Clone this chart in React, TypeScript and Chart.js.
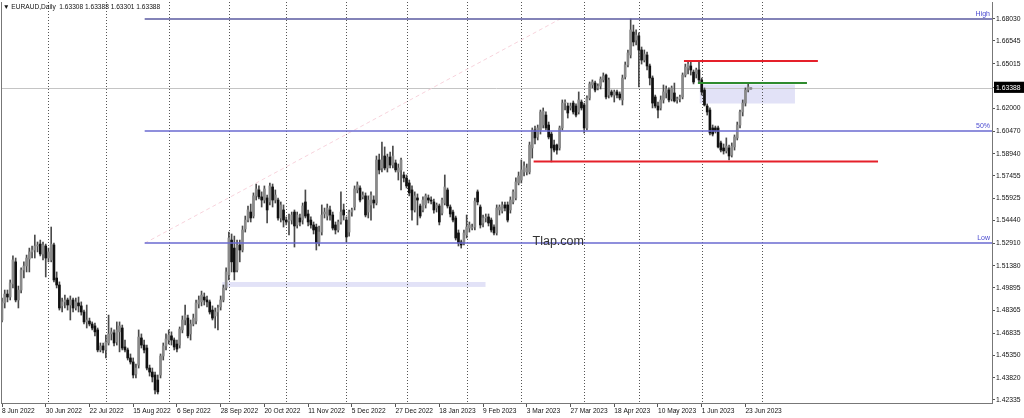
import React, { useEffect, useRef } from 'react';
import { Chart, registerables } from 'chart.js';

Chart.register(...registerables);

// ---- Daily EURAUD candles, bar 0 = 8 Jun 2022 (weekdays) ----
const opens = [
  1.4773, 1.4888, 1.4948, 1.4928, 1.5016, 1.5165, 1.4908, 1.4975, 1.511, 1.5137,
  1.5184, 1.5232, 1.5245, 1.5272, 1.5285, 1.5218, 1.5272, 1.5191, 1.5178, 1.5279,
  1.5056, 1.5009, 1.4868, 1.4895, 1.4908, 1.4874, 1.4908, 1.4854, 1.4888, 1.4868,
  1.4827, 1.476, 1.4766, 1.4746, 1.4733, 1.4706, 1.4571, 1.4598, 1.4571, 1.4618,
  1.4679, 1.4686, 1.4625, 1.4693, 1.4719, 1.4591, 1.4571, 1.4517, 1.449, 1.4409,
  1.4469, 1.4652, 1.4604, 1.4584, 1.4449, 1.4422, 1.4402, 1.4368, 1.4402, 1.453,
  1.4598, 1.4638, 1.4666, 1.4638, 1.4611, 1.4604, 1.4706, 1.4773, 1.4786, 1.4679,
  1.4746, 1.4766, 1.4881, 1.4895, 1.4928, 1.4908, 1.4895, 1.484, 1.48, 1.4827,
  1.4861, 1.4908, 1.4989, 1.5077, 1.5312, 1.5258, 1.511, 1.5279, 1.5245, 1.5387,
  1.5447, 1.5501, 1.5474, 1.561, 1.565, 1.5603, 1.5582, 1.5596, 1.5569, 1.567,
  1.5582, 1.5582, 1.5461, 1.5515, 1.5447, 1.5441, 1.5447, 1.5501, 1.5414, 1.5461,
  1.5447, 1.5569, 1.5488, 1.5447, 1.5414, 1.54, 1.5299, 1.5366, 1.5488, 1.5474,
  1.5515, 1.5481, 1.5414, 1.538, 1.5434, 1.5515, 1.5447, 1.5366, 1.5501, 1.5535,
  1.565, 1.5663, 1.5603, 1.561, 1.5501, 1.5549, 1.5582, 1.5562, 1.5852, 1.5798,
  1.5879, 1.5798, 1.5872, 1.5818, 1.5832, 1.5771, 1.5785, 1.5751, 1.5731, 1.5697,
  1.565, 1.5515, 1.5596, 1.5542, 1.5515, 1.5549, 1.5596, 1.5582, 1.5569, 1.5528,
  1.5542, 1.5494, 1.5562, 1.565, 1.5535, 1.5501, 1.5461, 1.536, 1.5299, 1.5299,
  1.5346, 1.5393, 1.5393, 1.54, 1.5637, 1.5535, 1.5427, 1.5461, 1.5468, 1.5447,
  1.54, 1.536, 1.5515, 1.5508, 1.5549, 1.5549, 1.5515, 1.5569, 1.5596, 1.5697,
  1.5717, 1.5771, 1.5771, 1.5771, 1.5933, 1.6054, 1.6007, 1.6054, 1.6088, 1.6155,
  1.6088, 1.6027, 1.5953, 1.5953, 1.5933, 1.6068, 1.6236, 1.6216, 1.6203, 1.6236,
  1.6216, 1.6176, 1.6243, 1.6223, 1.6068, 1.627, 1.6358, 1.6371, 1.6338, 1.6351,
  1.6392, 1.6425, 1.629, 1.6311, 1.629, 1.6311, 1.6297, 1.6257, 1.6412, 1.6493,
  1.656, 1.6715, 1.6661, 1.6688, 1.6594, 1.6526, 1.656, 1.6486, 1.6405, 1.6277,
  1.6216, 1.6203, 1.6257, 1.6304, 1.6324, 1.6264, 1.6304, 1.6257, 1.6264, 1.6277,
  1.6425, 1.6472, 1.6486, 1.6445, 1.6432, 1.6459, 1.6392, 1.6324, 1.6216, 1.6189,
  1.6068, 1.6068, 1.6068, 1.5967, 1.5933, 1.5913, 1.5933, 1.5885, 1.594, 1.6001,
  1.6088, 1.6176, 1.6236, 1.6324, 1.63308,
];

const highs = [
  1.4921, 1.4975, 1.4975, 1.5043, 1.5205, 1.5191, 1.5002, 1.5124, 1.5165, 1.5211,
  1.5258, 1.5272, 1.5346, 1.5299, 1.5312, 1.5299, 1.5285, 1.5258, 1.54, 1.5292,
  1.5097, 1.503, 1.4921, 1.4941, 1.4921, 1.4935, 1.4921, 1.4921, 1.4928, 1.4895,
  1.484, 1.4874, 1.4786, 1.476, 1.4753, 1.4719, 1.4618, 1.4618, 1.4672, 1.4806,
  1.4719, 1.4706, 1.476, 1.476, 1.4739, 1.4638, 1.4584, 1.4544, 1.4517, 1.4476,
  1.4706, 1.4679, 1.4638, 1.4604, 1.4469, 1.4449, 1.4422, 1.4402, 1.4544, 1.4618,
  1.4679, 1.4706, 1.4693, 1.4652, 1.4638, 1.4726, 1.48, 1.4874, 1.4806, 1.4773,
  1.4813, 1.4908, 1.4935, 1.4968, 1.4955, 1.4935, 1.4908, 1.4868, 1.4854, 1.4874,
  1.4935, 1.5009, 1.5124, 1.5366, 1.5353, 1.5339, 1.5312, 1.5312, 1.5407, 1.5474,
  1.5542, 1.5555, 1.563, 1.569, 1.5677, 1.5637, 1.5677, 1.5616, 1.5697, 1.569,
  1.565, 1.5596, 1.5569, 1.5549, 1.5468, 1.5488, 1.5501, 1.5515, 1.5501, 1.5488,
  1.5562, 1.565, 1.5515, 1.5468, 1.5434, 1.542, 1.5407, 1.5549, 1.5528, 1.5555,
  1.5542, 1.5501, 1.5434, 1.5447, 1.5637, 1.5555, 1.5468, 1.5515, 1.5528, 1.5677,
  1.5704, 1.5677, 1.5637, 1.563, 1.561, 1.5637, 1.561, 1.5879, 1.5892, 1.5973,
  1.594, 1.5892, 1.5906, 1.5946, 1.5852, 1.5825, 1.5865, 1.5771, 1.5751, 1.5717,
  1.5677, 1.5637, 1.5623, 1.5555, 1.5603, 1.5623, 1.5616, 1.5603, 1.5589, 1.5562,
  1.5555, 1.5596, 1.5751, 1.5663, 1.5549, 1.5515, 1.5474, 1.538, 1.5312, 1.538,
  1.5481, 1.5434, 1.542, 1.5596, 1.565, 1.5549, 1.5481, 1.5488, 1.5488, 1.5461,
  1.5414, 1.5549, 1.5549, 1.5569, 1.5569, 1.5569, 1.5603, 1.565, 1.5731, 1.5771,
  1.5852, 1.5839, 1.5825, 1.5973, 1.6068, 1.6081, 1.6088, 1.6189, 1.6203, 1.6176,
  1.6108, 1.6041, 1.5987, 1.596, 1.6081, 1.6257, 1.6257, 1.6236, 1.6236, 1.625,
  1.623, 1.6311, 1.6257, 1.6236, 1.6284, 1.6378, 1.6392, 1.6385, 1.6365, 1.6412,
  1.6439, 1.6432, 1.6405, 1.6324, 1.6324, 1.6324, 1.6311, 1.6425, 1.6513, 1.6594,
  1.6803, 1.6762, 1.6729, 1.6709, 1.6614, 1.6594, 1.658, 1.6499, 1.6419, 1.629,
  1.6243, 1.6284, 1.6358, 1.6351, 1.6338, 1.6351, 1.6371, 1.6277, 1.629, 1.6439,
  1.6499, 1.6513, 1.652, 1.6459, 1.6472, 1.6513, 1.6405, 1.6338, 1.623, 1.6203,
  1.6088, 1.6081, 1.6081, 1.598, 1.596, 1.6001, 1.5953, 1.5967, 1.6021, 1.6108,
  1.6189, 1.6257, 1.6338, 1.6371, 1.63388,
];

const lows = [
  1.476, 1.4854, 1.4895, 1.4908, 1.4989, 1.4895, 1.4854, 1.4955, 1.5056, 1.5097,
  1.5097, 1.5191, 1.5191, 1.5232, 1.5205, 1.5178, 1.5063, 1.5165, 1.5165, 1.503,
  1.4989, 1.484, 1.4827, 1.4854, 1.484, 1.4773, 1.4827, 1.484, 1.4827, 1.4806,
  1.4746, 1.4719, 1.4733, 1.4706, 1.4666, 1.4558, 1.4558, 1.4551, 1.4517, 1.4604,
  1.4638, 1.4598, 1.4604, 1.4558, 1.4571, 1.4558, 1.4503, 1.4476, 1.4382, 1.4382,
  1.4449, 1.4584, 1.4551, 1.4436, 1.4395, 1.4355, 1.4274, 1.4274, 1.4382, 1.4503,
  1.4571, 1.4611, 1.4604, 1.4571, 1.4558, 1.4584, 1.4686, 1.4739, 1.4652, 1.4638,
  1.4733, 1.4746, 1.4854, 1.4868, 1.4874, 1.4861, 1.4813, 1.4773, 1.4719, 1.4706,
  1.484, 1.4895, 1.4975, 1.5043, 1.5097, 1.5043, 1.5097, 1.5165, 1.5232, 1.5366,
  1.5434, 1.5434, 1.5461, 1.5582, 1.5589, 1.5535, 1.5562, 1.5427, 1.5549, 1.5535,
  1.5562, 1.5447, 1.5434, 1.54, 1.5414, 1.5346, 1.542, 1.5265, 1.5393, 1.5407,
  1.542, 1.5461, 1.5407, 1.5393, 1.5353, 1.5245, 1.5272, 1.5346, 1.5461, 1.5447,
  1.5447, 1.538, 1.5353, 1.5366, 1.542, 1.5447, 1.5299, 1.5339, 1.5474, 1.5515,
  1.563, 1.5569, 1.5589, 1.5468, 1.5461, 1.5447, 1.5528, 1.5549, 1.5758, 1.5771,
  1.5785, 1.5771, 1.5798, 1.5798, 1.5771, 1.5717, 1.565, 1.5704, 1.5663, 1.561,
  1.5447, 1.5501, 1.5414, 1.5461, 1.5501, 1.5528, 1.5562, 1.5555, 1.5494, 1.5501,
  1.5414, 1.5481, 1.5549, 1.5528, 1.5468, 1.5434, 1.5312, 1.5272, 1.5258, 1.5279,
  1.5326, 1.5366, 1.538, 1.538, 1.5549, 1.5393, 1.54, 1.5434, 1.5407, 1.5366,
  1.5346, 1.5346, 1.5481, 1.5494, 1.5508, 1.5434, 1.5494, 1.5555, 1.5582, 1.5684,
  1.5697, 1.5744, 1.5751, 1.5758, 1.5865, 1.596, 1.5987, 1.6027, 1.6068, 1.6054,
  1.5994, 1.5839, 1.5906, 1.5892, 1.5919, 1.6054, 1.6189, 1.6135, 1.6189, 1.6162,
  1.6142, 1.6162, 1.6189, 1.6034, 1.6054, 1.6257, 1.6338, 1.6311, 1.6324, 1.6331,
  1.6378, 1.6264, 1.627, 1.6277, 1.6243, 1.627, 1.6257, 1.6223, 1.6398, 1.6479,
  1.654, 1.6621, 1.6628, 1.6345, 1.6499, 1.6513, 1.6459, 1.6358, 1.6203, 1.6203,
  1.6135, 1.6189, 1.6236, 1.627, 1.6243, 1.625, 1.6243, 1.6236, 1.6243, 1.6264,
  1.6412, 1.6432, 1.6425, 1.6365, 1.6405, 1.6371, 1.629, 1.6216, 1.6155, 1.6021,
  1.6014, 1.6034, 1.5933, 1.5906, 1.5892, 1.5899, 1.5852, 1.5872, 1.5919, 1.5987,
  1.6068, 1.6149, 1.6216, 1.6311, 1.63301,
];

const closes = [
  1.4895, 1.4948, 1.4928, 1.5023, 1.5178, 1.4908, 1.4975, 1.511, 1.5137, 1.5191,
  1.5232, 1.5245, 1.5272, 1.5279, 1.5218, 1.5279, 1.5191, 1.5232, 1.5285, 1.5043,
  1.5009, 1.4854, 1.4895, 1.4908, 1.4874, 1.4908, 1.4854, 1.4895, 1.4868, 1.4827,
  1.476, 1.4773, 1.4746, 1.4719, 1.4693, 1.4571, 1.4598, 1.4571, 1.4625, 1.4679,
  1.4693, 1.4618, 1.4706, 1.4733, 1.4584, 1.4571, 1.4517, 1.449, 1.4402, 1.4449,
  1.4658, 1.4604, 1.4571, 1.4449, 1.4422, 1.4389, 1.4301, 1.4288, 1.453, 1.4598,
  1.4645, 1.4672, 1.4638, 1.4591, 1.4577, 1.4712, 1.4773, 1.4806, 1.4666, 1.4746,
  1.4786, 1.4888, 1.4908, 1.4941, 1.4908, 1.4895, 1.4827, 1.4786, 1.4827, 1.4854,
  1.4908, 1.4989, 1.5097, 1.5326, 1.5165, 1.5097, 1.5279, 1.5245, 1.538, 1.5447,
  1.5515, 1.5461, 1.561, 1.5657, 1.5603, 1.5582, 1.5657, 1.5515, 1.5677, 1.5582,
  1.5616, 1.5461, 1.5549, 1.5447, 1.5434, 1.5447, 1.5481, 1.5407, 1.5481, 1.5434,
  1.5542, 1.5474, 1.5434, 1.5414, 1.538, 1.5292, 1.5366, 1.5481, 1.5501, 1.5528,
  1.5481, 1.5393, 1.538, 1.5434, 1.5501, 1.5481, 1.5333, 1.5501, 1.5515, 1.5657,
  1.5684, 1.5582, 1.5616, 1.5481, 1.5582, 1.5616, 1.5562, 1.5852, 1.5785, 1.5852,
  1.5798, 1.5872, 1.5818, 1.5879, 1.5785, 1.5798, 1.5852, 1.5731, 1.5677, 1.563,
  1.5515, 1.561, 1.5582, 1.5474, 1.5582, 1.561, 1.5582, 1.5575, 1.5515, 1.5549,
  1.5434, 1.5582, 1.567, 1.5542, 1.5488, 1.5447, 1.5326, 1.5292, 1.5279, 1.536,
  1.54, 1.5414, 1.54, 1.5575, 1.5569, 1.5414, 1.5461, 1.5468, 1.5427, 1.538,
  1.536, 1.5528, 1.5535, 1.5549, 1.5528, 1.5447, 1.5582, 1.5637, 1.5704, 1.5744,
  1.5785, 1.5812, 1.5798, 1.5953, 1.6054, 1.6001, 1.6068, 1.6176, 1.6182, 1.6068,
  1.6007, 1.5933, 1.5919, 1.5919, 1.6068, 1.6236, 1.6243, 1.6169, 1.6216, 1.6176,
  1.6155, 1.6257, 1.6203, 1.6068, 1.627, 1.6365, 1.6378, 1.6324, 1.6351, 1.6398,
  1.6419, 1.6277, 1.6392, 1.629, 1.6311, 1.629, 1.627, 1.6405, 1.6493, 1.6574,
  1.6729, 1.6648, 1.6695, 1.6594, 1.6526, 1.6567, 1.6486, 1.6405, 1.6236, 1.6216,
  1.6189, 1.6257, 1.6311, 1.6331, 1.6257, 1.6338, 1.625, 1.6264, 1.6277, 1.6425,
  1.6479, 1.6499, 1.6459, 1.6378, 1.6459, 1.6392, 1.6311, 1.6223, 1.6176, 1.6034,
  1.6027, 1.6048, 1.594, 1.5919, 1.5913, 1.5946, 1.5879, 1.5946, 1.6007, 1.6088,
  1.6176, 1.6236, 1.6324, 1.6345, 1.63388,
];

// ---- axis ticks ----
const xTickIndex = [0, 16, 32, 48, 64, 80, 96, 112, 128, 144, 160, 176, 192, 208, 224, 240, 256, 272];
const xTickLabels = [
  '8 Jun 2022', '30 Jun 2022', '22 Jul 2022', '15 Aug 2022', '6 Sep 2022', '28 Sep 2022',
  '20 Oct 2022', '11 Nov 2022', '5 Dec 2022', '27 Dec 2022', '18 Jan 2023', '9 Feb 2023',
  '3 Mar 2023', '27 Mar 2023', '18 Apr 2023', '10 May 2023', '1 Jun 2023', '23 Jun 2023',
];
const monthStartIndex = [17, 38, 61, 83, 104, 126, 148, 170, 190, 213, 233, 256, 278];
const yTicks = [
  1.6803, 1.66545, 1.65015, 1.63388, 1.62, 1.6047, 1.5894, 1.57455, 1.55925,
  1.5444, 1.5291, 1.5138, 1.49895, 1.48365, 1.46835, 1.4535, 1.4382, 1.42335,
];
const lastPrice = 1.63388;

// ---- drawn objects (bar index, price) ----
const fibStartIndex = 52.2;
const fibLevels = [1.6803, 1.6047, 1.5291];
const fibLabels = ['High', '50%', 'Low'];
const trendFrom = [52.2, 1.5291];
const trendTo = [204.2, 1.6803];
const redLineFrom = [249.5, 194.5];
const redLineTo = [298.5, 320.5];
const redLinePrice = [1.652, 1.5842];
const greenLineFrom = 254.6;
const greenLineTo = 294.5;
const greenLinePrice = 1.6371;
const boxFrom = [255.3, 80.6];
const boxTo = [290.1, 176.9];
const boxTop = [1.6361, 1.5029];
const boxBottom = [1.6233, 1.4996];
const watermarkIndex = 194.1;
const watermarkPrice = 1.5299;

const UP = '#8a8a8a';
const DOWN = '#111111';
const WICK = '#4a4a4a';
const FONT = '"Liberation Sans", Arial, sans-serif';

export default function App() {
  const ref = useRef<HTMLCanvasElement>(null);

  useEffect(() => {
    const canvas = ref.current!;
    const idx = closes.map((_, i) => i);
    const last = closes.length - 1;

    const overlay = {
      id: 'overlay',
      beforeDatasetsDraw(chart: any) {
        const { ctx, chartArea: a } = chart;
        const x = chart.scales.x;
        const y = chart.scales.y;
        ctx.save();
        ctx.beginPath();
        ctx.rect(a.left, a.top, a.right - a.left, a.bottom - a.top);
        ctx.clip();
        // rectangles
        ctx.fillStyle = '#e2e2f7';
        for (let i = 0; i < boxFrom.length; i++) {
          const x0 = x.getPixelForValue(boxFrom[i]);
          const x1 = x.getPixelForValue(boxTo[i]);
          const y0 = y.getPixelForValue(boxTop[i]);
          const y1 = y.getPixelForValue(boxBottom[i]);
          ctx.fillRect(x0, y0, x1 - x0, y1 - y0);
        }
        // month grid
        ctx.strokeStyle = '#555';
        ctx.lineWidth = 1;
        ctx.setLineDash([1, 2]);
        for (const m of monthStartIndex) {
          const p = Math.round(x.getPixelForValue(m)) + 0.5;
          ctx.beginPath();
          ctx.moveTo(p, a.top);
          ctx.lineTo(p, a.bottom);
          ctx.stroke();
        }
        ctx.setLineDash([]);
        // current price line
        const yp = Math.round(y.getPixelForValue(lastPrice)) + 0.5;
        ctx.strokeStyle = '#c4c4c4';
        ctx.beginPath();
        ctx.moveTo(a.left, yp);
        ctx.lineTo(a.right, yp);
        ctx.stroke();
        ctx.restore();
      },
      afterDatasetsDraw(chart: any) {
        const { ctx, chartArea: a } = chart;
        const x = chart.scales.x;
        const y = chart.scales.y;
        ctx.save();
        ctx.beginPath();
        ctx.rect(a.left, a.top, a.right - a.left, a.bottom - a.top);
        ctx.clip();

        // fib trend line
        ctx.strokeStyle = '#f7d3dc';
        ctx.lineWidth = 1;
        ctx.setLineDash([4, 3]);
        ctx.beginPath();
        ctx.moveTo(x.getPixelForValue(trendFrom[0]), y.getPixelForValue(trendFrom[1]));
        ctx.lineTo(x.getPixelForValue(trendTo[0]), y.getPixelForValue(trendTo[1]));
        ctx.stroke();
        ctx.setLineDash([]);

        // fib levels
        ctx.font = `7px ${FONT}`;
        ctx.textAlign = 'right';
        ctx.textBaseline = 'bottom';
        for (let i = 0; i < fibLevels.length; i++) {
          const p = Math.round(y.getPixelForValue(fibLevels[i]));
          ctx.strokeStyle = i === 0 ? '#5a5aa0' : '#6a6ad0';
          ctx.lineWidth = 1.6;
          ctx.beginPath();
          ctx.moveTo(x.getPixelForValue(fibStartIndex), p);
          ctx.lineTo(a.right, p);
          ctx.stroke();
          ctx.fillStyle = '#4a4ad0';
          ctx.fillText(fibLabels[i], a.right - 2, p - 1);
        }

        // red lines
        ctx.strokeStyle = '#e5202a';
        ctx.lineWidth = 2;
        for (let i = 0; i < redLinePrice.length; i++) {
          const p = y.getPixelForValue(redLinePrice[i]);
          ctx.beginPath();
          ctx.moveTo(x.getPixelForValue(redLineFrom[i]), p);
          ctx.lineTo(x.getPixelForValue(redLineTo[i]), p);
          ctx.stroke();
        }
        // green line
        ctx.strokeStyle = '#2e8b2e';
        const gp = y.getPixelForValue(greenLinePrice);
        ctx.beginPath();
        ctx.moveTo(x.getPixelForValue(greenLineFrom), gp);
        ctx.lineTo(x.getPixelForValue(greenLineTo), gp);
        ctx.stroke();

        // watermark
        ctx.fillStyle = '#333';
        ctx.font = `12.5px ${FONT}`;
        ctx.textAlign = 'left';
        ctx.textBaseline = 'middle';
        ctx.fillText('Tlap.com', x.getPixelForValue(watermarkIndex), y.getPixelForValue(watermarkPrice));

        // title
        ctx.fillStyle = '#111';
        ctx.font = `6.6px ${FONT}`;
        ctx.textBaseline = 'middle';
        const t = `\u25BC EURAUD,Daily  ${opens[last].toFixed(5)} ${highs[last].toFixed(5)} ${lows[last].toFixed(5)} ${closes[last].toFixed(5)}`;
        ctx.fillText(t, a.left + 2, a.top + 5);
        ctx.restore();

        // left frame
        ctx.save();
        ctx.strokeStyle = '#777';
        ctx.lineWidth = 1;
        ctx.beginPath();
        ctx.moveTo(a.left + 0.5, a.top);
        ctx.lineTo(a.left + 0.5, a.bottom);
        ctx.stroke();
        ctx.restore();
      },
    };

    const chart = new Chart(canvas, {
      type: 'bar',
      data: {
        datasets: [
          {
            label: 'wick',
            data: idx.map((i) => ({ x: i, y: [lows[i], highs[i]] })) as any,
            backgroundColor: WICK,
            barThickness: 1,
            grouped: false,
            order: 2,
          },
          {
            label: 'body',
            data: idx.map((i) => ({ x: i, y: [opens[i], closes[i]] })) as any,
            backgroundColor: (c: any) => (closes[c.dataIndex] >= opens[c.dataIndex] ? UP : DOWN),
            barThickness: 2,
            minBarLength: 1,
            grouped: false,
            order: 1,
          },
        ],
      },
      options: {
        responsive: false,
        animation: false,
        events: [],
        layout: { padding: { left: 1, top: 2, right: 0, bottom: 0 } },
        plugins: { legend: { display: false }, tooltip: { enabled: false } },
        scales: {
          x: {
            type: 'linear',
            min: -0.366,
            max: 362.2,
            offset: false,
            afterBuildTicks: (s: any) => {
              s.ticks = xTickIndex.map((v) => ({ value: v }));
            },
            afterFit: (s: any) => {
              s.height = 15;
              s.paddingLeft = 0;
              s.paddingRight = 0;
            },
            ticks: {
              autoSkip: false,
              maxRotation: 0,
              minRotation: 0,
              align: 'start',
              padding: 0,
              color: '#111',
              font: { family: FONT, size: 6.6 },
              callback: (_v: any, i: number) => xTickLabels[i] ?? '',
            },
            grid: { drawOnChartArea: false, drawTicks: true, tickLength: 4, color: '#555', offset: false },
            border: { display: true, color: '#777', width: 1 },
          },
          y: {
            type: 'linear',
            position: 'right',
            min: 1.42132,
            max: 1.69175,
            afterBuildTicks: (s: any) => {
              s.ticks = yTicks.map((v) => ({ value: v }));
            },
            afterFit: (s: any) => {
              s.width = 32;
              s.paddingTop = 0;
              s.paddingBottom = 0;
            },
            ticks: {
              autoSkip: false,
              padding: 1,
              font: { family: FONT, size: 6.8 },
              color: (c: any) => (c.tick && c.tick.value === lastPrice ? '#fff' : '#111'),
              showLabelBackdrop: (c: any) => !!(c.tick && c.tick.value === lastPrice),
              backdropColor: '#000',
              backdropPadding: { left: 2, right: 4, top: 2, bottom: 1 },
              callback: (v: any) => Number(v).toFixed(5),
            },
            grid: { drawOnChartArea: false, drawTicks: true, tickLength: 3, color: '#555' },
            border: { display: true, color: '#777', width: 1 },
          },
        },
      } as any,
      plugins: [overlay],
    });
    return () => chart.destroy();
  }, []);

  return (
    <div style={{ width: 1024, height: 418, position: 'relative', background: '#fff' }}>
      <style>{'body{margin:0}'}</style>
      <canvas ref={ref} width={1024} height={418} style={{ display: 'block' }} />
    </div>
  );
}
